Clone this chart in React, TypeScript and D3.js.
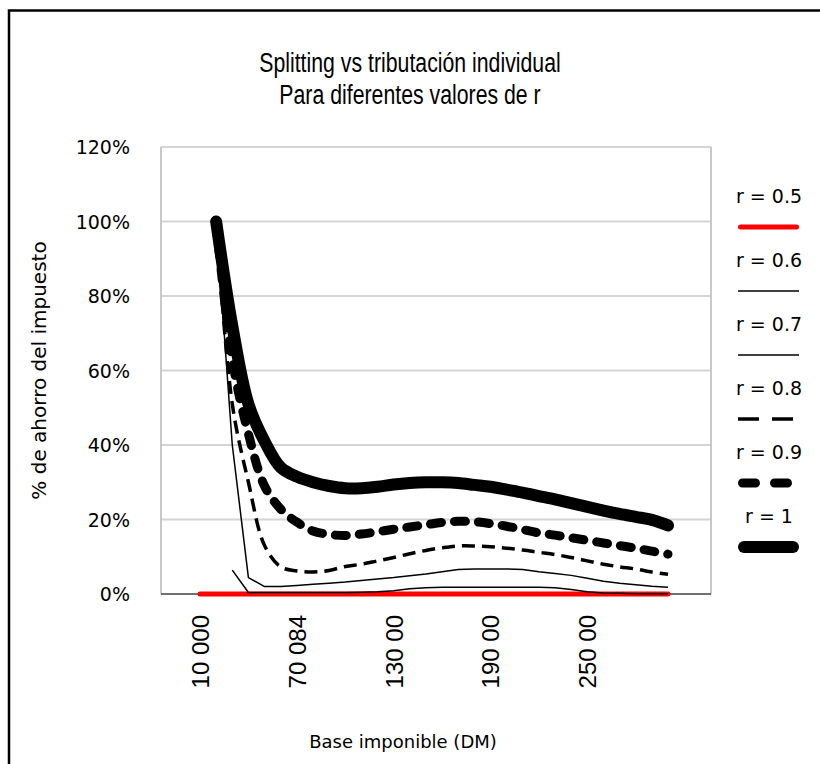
import * as d3 from "d3";

// Base imponible (DM), one per category on the x axis
const categories = [
  10000, 20000, 30000, 40000, 50000, 60000, 70084, 80000, 90000, 100000,
  110000, 120000, 130000, 140000, 150000, 160000, 170000, 180000, 190000, 200000,
  210000, 220000, 230000, 240000, 250000, 260000, 270000, 280000, 290000, 300000,
];
// labels as they show on the axis (every 6th category)
const xTickLabels = ["10 000", "70 084", "130 00", "190 00", "250 00"];
const yTicks = [0, 0.2, 0.4, 0.6, 0.8, 1.0, 1.2];

const seriesNames = ["r = 0.5", "r = 0.6", "r = 0.7", "r = 0.8", "r = 0.9", "r = 1"];

// % de ahorro del impuesto
const r05 = [0, 0, 0, 0, 0, 0, 0, 0, 0, 0, 0, 0, 0, 0, 0, 0, 0, 0, 0, 0, 0, 0, 0, 0, 0, 0, 0, 0, 0, 0];
const r06 = [null, null, 6.4, 0.4, 0.4, 0.4, 0.4, 0.4, 0.4, 0.4, 0.5, 0.6, 0.9, 1.4, 1.7, 1.8, 1.8, 1.8, 1.8, 1.8, 1.8, 1.8, 1.7, 1.2, 0.6, 0.3, 0.2, 0.1, 0.1, 0.1];
const r07 = [null, 100, 40, 4.4, 2.0, 2.0, 2.3, 2.6, 2.9, 3.2, 3.6, 4.0, 4.4, 4.9, 5.4, 6.0, 6.6, 6.7, 6.7, 6.7, 6.6, 6.0, 5.5, 5.0, 4.2, 3.4, 2.9, 2.5, 2.1, 1.8];
const r08 = [null, 100, 51, 30, 13, 7.3, 6.2, 5.9, 6.3, 7.4, 8.0, 8.9, 9.8, 10.8, 11.7, 12.4, 12.9, 12.9, 12.7, 12.3, 11.8, 11.2, 10.6, 9.8, 8.9, 8.0, 7.3, 6.7, 5.9, 5.3];
const r09 = [null, 100, 63, 43, 29, 22.8, 19.3, 16.9, 16.0, 15.7, 16.1, 16.7, 17.4, 18.0, 18.6, 19.2, 19.5, 19.4, 18.9, 18.2, 17.3, 16.4, 15.8, 15.1, 14.4, 13.7, 13.0, 12.3, 11.5, 10.7];
const r10 = [null, 100, 72, 51, 41, 34, 31.5, 30, 29, 28.4, 28.4, 28.8, 29.4, 29.8, 30, 30, 29.8, 29.3, 28.8, 28.0, 27.2, 26.3, 25.4, 24.4, 23.4, 22.4, 21.5, 20.7, 19.9, 18.4];

const seriesData = [r05, r06, r07, r08, r09, r10];

// drawing style per series (plot line / legend sample)
const styles = [
  { color: "#ff0000", width: 5, dash: null, legendDash: null, cap: "round", smooth: false },
  { color: "#000", width: 1.5, dash: null, legendDash: null, cap: "butt", smooth: false },
  { color: "#000", width: 1.5, dash: null, legendDash: null, cap: "butt", smooth: false },
  { color: "#000", width: 3.5, dash: "13 7", legendDash: "21 13", cap: "butt", smooth: true },
  { color: "#000", width: 9, dash: "11 13", legendDash: "13 19", cap: "round", smooth: true },
  { color: "#000", width: 12, dash: null, legendDash: null, cap: "round", smooth: true },
];

const W = 820;
const H = 764;
const plot = { left: 161, right: 711, top: 147, bottom: 594 };
const sans = "'Liberation Sans', Arial, sans-serif";
const tahomaLike = "'DejaVu Sans', Verdana, sans-serif";

export default function App() {
  const x = d3
    .scalePoint<number>()
    .domain(categories)
    .range([200, 668]);
  const y = d3.scaleLinear().domain([0, 1.2]).range([plot.bottom, plot.top]);

  const makeLine = (smooth: boolean) =>
    d3
      .line<number | null>()
      .defined((d) => d !== null)
      .x((_, i) => x(categories[i])!)
      .y((d) => y((d as number) / 100))
      .curve(smooth ? d3.curveCatmullRom.alpha(0.5) : d3.curveLinear);

  const tickCats = categories.filter((_, i) => i % 6 === 0);

  const legendX = 769;
  const legendTop = 203;
  const legendStep = 64;

  return (
    <svg
      width={W}
      height={H}
      style={{ position: "absolute", left: 0, top: 0, display: "block", background: "#fff" }}
    >
      {/* outer chart frame */}
      <rect x={9} y={10.5} width={860} height={820} fill="#fff" stroke="#000" strokeWidth={2.5} />

      {/* title (narrow face) */}
      <g transform="translate(410,0) scale(0.76,1)">
        <text x={0} y={72} textAnchor="middle" fontFamily={sans} fontSize={28} fill="#000">
          Splitting vs tributación individual
        </text>
        <text x={0} y={104} textAnchor="middle" fontFamily={sans} fontSize={28} fill="#000">
          Para diferentes valores de r
        </text>
      </g>

      {/* gridlines */}
      {yTicks.slice(1).map((t) => (
        <line key={t} x1={plot.left} x2={plot.right} y1={y(t)} y2={y(t)} stroke="#d4d4d4" strokeWidth={2} />
      ))}
      <line x1={plot.left} x2={plot.left} y1={plot.top} y2={plot.bottom} stroke="#c8c8c8" strokeWidth={2} />
      <line x1={plot.right} x2={plot.right} y1={plot.top} y2={plot.bottom} stroke="#c8c8c8" strokeWidth={2} />
      <line x1={plot.left} x2={plot.right} y1={plot.bottom} y2={plot.bottom} stroke="#404040" strokeWidth={1.5} />

      {/* y tick labels */}
      {yTicks.map((t) => (
        <text key={t} x={130} y={y(t) + 7} textAnchor="end" fontFamily={tahomaLike} fontSize={19} fill="#000">
          {d3.format(".0%")(t)}
        </text>
      ))}

      {/* x tick labels */}
      {tickCats.map((c, i) => (
        <text
          key={c}
          transform={`translate(${x(c)! + 9},615) rotate(-90)`}
          textAnchor="end"
          fontFamily={sans}
          fontSize={24}
          fill="#000"
        >
          {xTickLabels[i]}
        </text>
      ))}

      {/* axis titles */}
      <text
        transform={`translate(46,${(plot.top + plot.bottom) / 2}) rotate(-90)`}
        textAnchor="middle"
        fontFamily={tahomaLike}
        fontSize={20}
        fill="#000"
      >
        % de ahorro del impuesto
      </text>
      <text x={403} y={748} textAnchor="middle" fontFamily={tahomaLike} fontSize={18} fill="#000">
        Base imponible (DM)
      </text>

      {/* series */}
      {seriesData.map((data, k) => {
        const s = styles[k];
        return (
          <path
            key={seriesNames[k]}
            d={makeLine(s.smooth)(data) || ""}
            fill="none"
            stroke={s.color}
            strokeWidth={s.width}
            strokeDasharray={s.dash || undefined}
            strokeLinecap={s.cap as any}
            strokeLinejoin="round"
          />
        );
      })}

      {/* legend */}
      {seriesNames.map((name, k) => {
        const s = styles[k];
        const ty = legendTop + k * legendStep;
        const pad = s.cap === "round" ? s.width / 2 : 0;
        return (
          <g key={name}>
            <text x={legendX} y={ty} textAnchor="middle" fontFamily={tahomaLike} fontSize={19} fill="#000">
              {name}
            </text>
            <line
              x1={738 + pad}
              x2={799 - pad}
              y1={ty + 24}
              y2={ty + 24}
              stroke={s.color}
              strokeWidth={s.width}
              strokeDasharray={s.legendDash || undefined}
              strokeLinecap={s.cap as any}
            />
          </g>
        );
      })}
    </svg>
  );
}
